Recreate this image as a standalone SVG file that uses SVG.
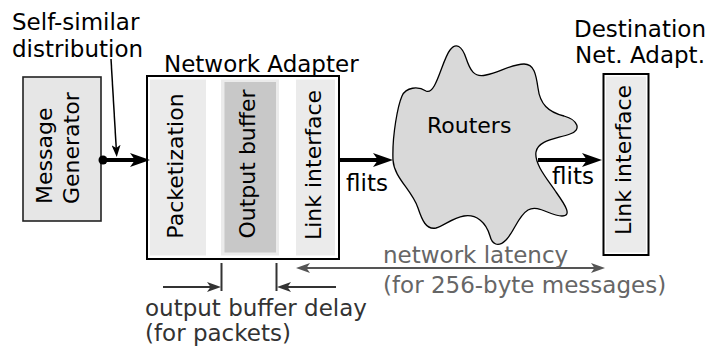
<svg xmlns="http://www.w3.org/2000/svg" width="706" height="350" viewBox="0 0 706 350">
  <style>
    text { font-family: "DejaVu Sans", "Liberation Sans", sans-serif; font-size: 23px; fill: #000; }
    .vert { font-size: 22px; }
    .box { fill: #e6e6e6; stroke: #222; stroke-width: 1.6; }
    .frame { fill: #fff; stroke: #000; stroke-width: 2; }
    .panel { fill: #ebebeb; stroke: none; }
    .panel-dark { fill: #c8c8c8; stroke: none; }
    .thick { stroke: #000; stroke-width: 4; fill: none; }
    .thin { stroke: #000; stroke-width: 1.5; fill: none; }
    .dim { stroke: #555; stroke-width: 2; fill: none; }
    .dim-dark { stroke: #333; stroke-width: 2; fill: none; }
    .note { fill: #666; }
    .note-dark { fill: #333; }
  </style>
  <defs>
    <marker id="head-bold" markerUnits="userSpaceOnUse" viewBox="0 0 20 14" refX="10" refY="7" markerWidth="20" markerHeight="14" orient="auto">
      <path d="M0,0 L20,7 L0,14 L5,7 Z" fill="#000"/>
    </marker>
    <marker id="head-thin" markerUnits="userSpaceOnUse" viewBox="0 0 12 9" refX="6" refY="4.5" markerWidth="12" markerHeight="9" orient="auto">
      <path d="M0,0 L12,4.5 L0,9 L3,4.5 Z" fill="#000"/>
    </marker>
    <marker id="head-gray" markerUnits="userSpaceOnUse" viewBox="0 0 14 10" refX="7" refY="5" markerWidth="14" markerHeight="10" orient="auto-start-reverse">
      <path d="M0,0 L14,5 L0,10 L3.5,5 Z" fill="#555"/>
    </marker>
    <marker id="head-dark" markerUnits="userSpaceOnUse" viewBox="0 0 14 10" refX="7" refY="5" markerWidth="14" markerHeight="10" orient="auto">
      <path d="M0,0 L14,5 L0,10 L3.5,5 Z" fill="#333"/>
    </marker>
  </defs>

  <!-- traffic source -->
  <g id="self-similar">
    <text x="12" y="30">Self-similar</text>
    <text x="12" y="56.5">distribution</text>
  </g>

  <g id="message-generator">
    <rect class="box" x="23" y="77" width="78" height="144"/>
    <text class="vert" transform="translate(52,204) rotate(-90)">Message</text>
    <text class="vert" transform="translate(79,204) rotate(-90)">Generator</text>
  </g>

  <!-- source network adapter with its three stages -->
  <g id="network-adapter">
    <text x="164" y="72">Network Adapter</text>
    <rect class="frame" x="147" y="76" width="192" height="183"/>
    <rect class="panel" x="150" y="79.5" width="56" height="176"/>
    <rect class="panel" x="221" y="79.5" width="58" height="176"/>
    <rect class="panel-dark" x="224.5" y="82" width="51.5" height="170.5"/>
    <rect class="panel" x="296" y="79.5" width="39" height="176"/>
    <text class="vert" text-anchor="middle" transform="translate(183,166) rotate(-90)">Packetization</text>
    <text class="vert" text-anchor="middle" transform="translate(255,164) rotate(-90)">Output buffer</text>
    <text class="vert" text-anchor="middle" transform="translate(320.5,165) rotate(-90)">Link interface</text>
  </g>

  <!-- interconnect -->
  <g id="routers">
    <path d="M393,160 C392,135 398,105 402,96 C406,87 418,86 426,91 C436,96 442,60 450,50 C456,42 462,46 466,58 C470,70 474,78 486,75 C500,72 512,64 524,64 C534,64 536,74 538,88 C540,104 548,112 564,116 C578,120 582,130 570,134 C556,139 538,140 536,152 C534,164 548,180 556,192 C566,206 572,216 562,216 C550,216 538,204 528,210 C518,216 514,232 506,240 C498,248 492,244 490,236 C486,222 476,214 464,216 C452,218 444,226 436,228 C426,230 422,220 418,208 C412,190 394,178 393,160 Z" fill="#d9d9d9" stroke="#000" stroke-width="1.3"/>
    <text class="vert" x="427" y="133">Routers</text>
  </g>

  <!-- receiving side -->
  <g id="destination-adapter">
    <text x="574" y="37">Destination</text>
    <text x="575" y="63">Net. Adapt.</text>
    <rect class="frame" x="603.5" y="74" width="45" height="181"/>
    <rect class="panel" x="606" y="76.5" width="40" height="176"/>
    <text class="vert" text-anchor="middle" transform="translate(631,160) rotate(-90)">Link interface</text>
  </g>

  <g id="connectors">
    <line class="thin" x1="111" y1="59" x2="116.4" y2="151" marker-end="url(#head-thin)"/>
    <circle cx="103" cy="160" r="4.5" fill="#000"/>
    <line class="thick" x1="103" y1="160" x2="140" y2="160" marker-end="url(#head-bold)"/>
    <line class="thick" x1="339" y1="160" x2="383" y2="160" marker-end="url(#head-bold)"/>
    <line class="thick" x1="538" y1="160" x2="592" y2="160" marker-end="url(#head-bold)"/>
    <text x="346" y="191">flits</text>
    <text x="552" y="184">flits</text>

    <!-- latency annotations -->
    <line class="dim" x1="303" y1="268" x2="598" y2="268" marker-start="url(#head-gray)" marker-end="url(#head-gray)"/>
    <text class="note" x="383" y="263">network latency</text>
    <text class="note" x="383" y="293">(for 256-byte messages)</text>

    <line class="dim-dark" x1="221.5" y1="263" x2="221.5" y2="291"/>
    <line class="dim-dark" x1="276.5" y1="263" x2="276.5" y2="291"/>
    <line class="dim-dark" x1="163" y1="287" x2="214" y2="287" marker-end="url(#head-dark)"/>
    <line class="dim-dark" x1="336" y1="287" x2="284" y2="287" marker-end="url(#head-dark)"/>
    <text class="note-dark" x="145" y="316">output buffer delay</text>
    <text class="note-dark" x="145" y="341">(for packets)</text>
  </g>
</svg>
